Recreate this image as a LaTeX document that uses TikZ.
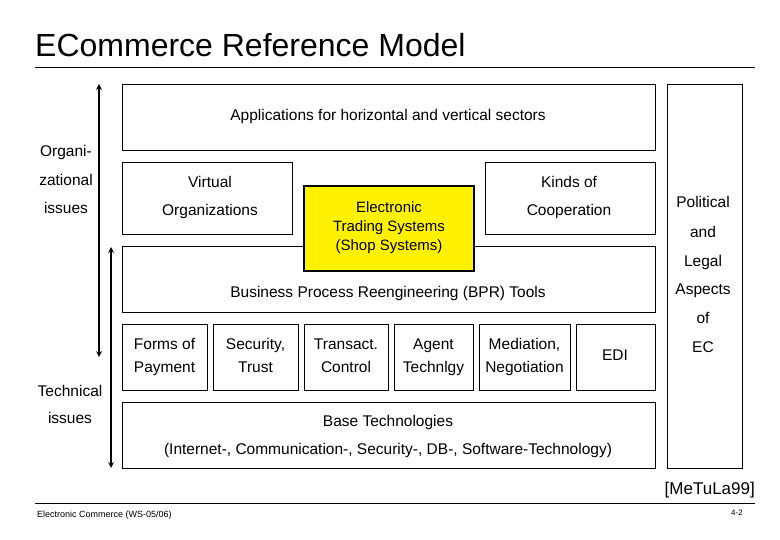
\documentclass[tikz,border=0pt]{standalone}
\usepackage{fontspec}
\setmainfont{Liberation Sans}
\begin{document}
\begin{tikzpicture}[x=1pt,y=-1pt,
  box/.style={draw,line width=0.8pt},
  ml/.style={font=\fontsize{15}{19}\selectfont,align=center},
  txt/.style={font=\fontsize{15.5}{18}\selectfont,align=center,text height=11.5pt,text depth=3.5pt},
  arr/.style={line width=1.6pt,<->,>=stealth}]
\useasboundingbox (0,0) rectangle (780,540);
\node[font=\fontsize{32}{36}\selectfont,anchor=base west,inner sep=0] (title) at (35,57) {ECommerce Reference Model};
\draw[line width=0.6pt] (35,67) coordinate (tl1) -- (755,67) coordinate (tl2);
% boxes
\draw[box] (122,84) rectangle (655,150);
\node[txt] (apps) at (388,117) {Applications for horizontal and vertical sectors};
\draw[box] (122,162) rectangle (292,234);
\node[txt] (v1) at (210,184) {Virtual};
\node[txt] (v2) at (210,212) {Organizations};
\draw[box] (485,162) rectangle (655,234);
\node[txt] (k1) at (569,184) {Kinds of};
\node[txt] (k2) at (569,212) {Cooperation};
\draw[box] (122,246) rectangle (655,312);
\node[txt] (bpr) at (388,294) {Business Process Reengineering (BPR) Tools};
\draw[line width=2.2pt,fill=yellow] (304,186) rectangle (474,271);
\node[ml] (ets) at (389,228) {Electronic\\Trading Systems\\(Shop Systems)};
\foreach \a/\b/\t/\u [count=\i] in {122/207/{Forms of}/{Payment},213/298/{Security,}/{Trust},304/388/{Transact.}/{Control},394/473/{Agent}/{Technlgy},479/570/{Mediation,}/{Negotiation}}{
  \draw[box] (\a,324) rectangle (\b,390);
  \node[txt] (s\i a) at ({(\a+\b)/2},345) {\t};
  \node[txt] (s\i b) at ({(\a+\b)/2},369) {\u};
}
\draw[box] (576,324) rectangle (655,390);
\node[txt] (edi) at (615,357) {EDI};
\draw[box] (122,402) rectangle (655,468);
\node[txt] (b1) at (388,422) {Base Technologies};
\node[txt] (b2) at (388,450) {(Internet-, Communication-, Security-, DB-, Software-Technology)};
\draw[box] (667,84) rectangle (742,468);
\foreach \t/\y [count=\i] in {Political/204,and/234,Legal/263,Aspects/291,of/320,EC/349}
  \node[txt] (r\i) at (703,\y) {\t};
% arrows
\coordinate (a1t) at (99,84); \coordinate (a1b) at (99,357);
\coordinate (a2t) at (111,247); \coordinate (a2b) at (111,468);
\draw[arr] (a1t) -- (a1b);
\draw[arr] (a2t) -- (a2b);
\node[txt] (o1) at (66,153) {Organi-};
\node[txt] (o2) at (66,182) {zational};
\node[txt] (o3) at (66,210) {issues};
\node[txt] (t1) at (70,392) {Technical};
\node[txt] (t2) at (70,420) {issues};
% footer
\node[font=\fontsize{17}{20}\selectfont,anchor=east,inner sep=0] (ref) at (755,490) {[MeTuLa99]};
\draw[line width=0.6pt] (35,503) coordinate (f1) -- (755,503) coordinate (f2);
\node[font=\fontsize{9}{10}\selectfont,anchor=west,inner sep=0] (foot) at (37,515) {Electronic Commerce (WS-05/06)};
\node[font=\fontsize{8}{10}\selectfont] (pg) at (737,513) {4-2};
\end{tikzpicture}
\end{document}
